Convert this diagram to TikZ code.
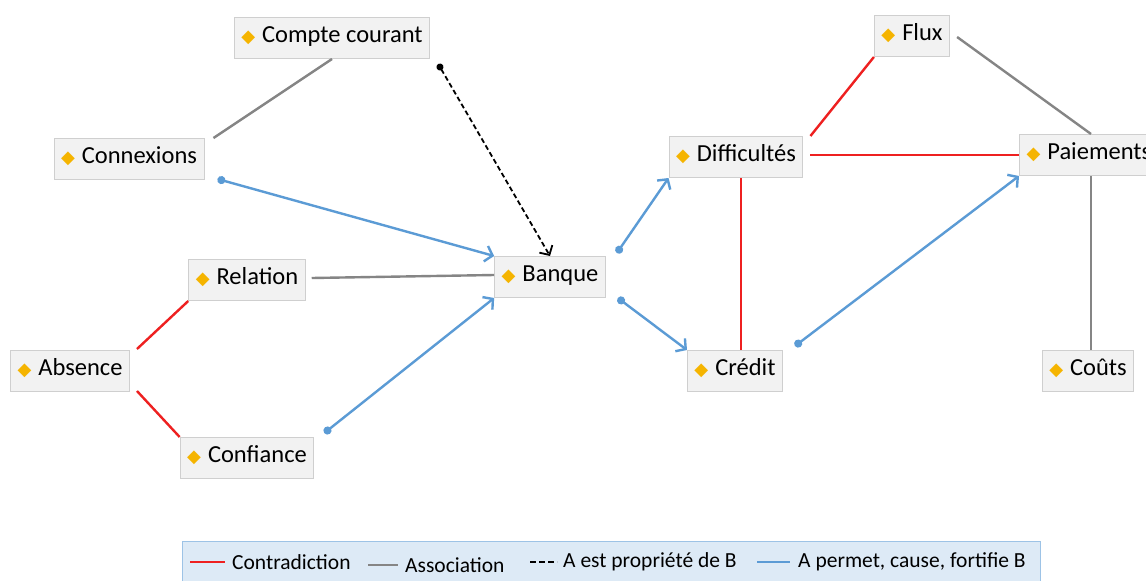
\documentclass[tikz,border=0pt]{standalone}
\usepackage{fontspec}
\setmainfont{Carlito}
\newfontfamily\symfont{DejaVu Sans}
\usetikzlibrary{arrows.meta, calc}
\definecolor{puce}{HTML}{F5B400}
\definecolor{fondnoeud}{HTML}{F2F2F2}
\definecolor{bordnoeud}{HTML}{CFCFCF}
\definecolor{contra}{HTML}{EE2020}
\definecolor{assoc}{HTML}{858585}
\definecolor{cause}{HTML}{5B9BD5}
\definecolor{fondlegende}{HTML}{DDEAF6}
\definecolor{bordlegende}{HTML}{9DC3E6}
\newcommand{\puce}{\raisebox{0.5pt}{\symfont\fontsize{18}{18}\selectfont\color{puce}◆}\hspace{7pt}}
\tikzset{
  concept/.style  = {draw=bordnoeud, fill=fondnoeud, line width=1pt,
                     minimum height=41pt, inner xsep=7pt,
                     text height=15pt, text depth=6pt,
                     font=\fontsize{24.5}{28}\selectfont},
  lgtxt/.style    = {anchor=west, inner sep=0pt, font=\fontsize{21.5}{25}\selectfont},
  lcontra/.style  = {draw=contra, line width=2.4pt},
  lassoc/.style   = {draw=assoc, line width=2.4pt},
  lprop/.style    = {draw=black, line width=1.8pt, dash pattern=on 5pt off 3pt,
                     {Circle[length=7pt]}-{Straight Barb[length=7pt, width=15pt]}},
  lcause/.style   = {draw=cause, line width=2.4pt,
                     {Circle[length=8pt]}-{Straight Barb[length=7pt, width=16pt]}},
}

\begin{document}
\begin{tikzpicture}[x=1pt, y=-1pt]
    \clip (0,0) rectangle (1146,581);
    \fill[white] (0,0) rectangle (1146,581);
    % concepts, partie gauche
    \node[concept] (cc)   at (332,38)  {\puce Compte courant};
    \node[concept] (cx)   at (129,159) {\puce Connexions};
    \node[concept] (rel)  at (247,280) {\puce Relation};
    \node[concept] (abs)  at (70,371)  {\puce Absence};
    \node[concept] (conf) at (247,458) {\puce Confiance};
    \node[concept] (bq)   at (550,277) {\puce Banque};
    % concepts, partie droite
    \node[concept] (dif)  at (736,157) {\puce Difficultés};
    \node[concept] (cr)   at (735,371) {\puce Crédit};
    \node[concept] (flux) at (912,36)  {\puce Flux};
    \node[concept, anchor=west] (pai) at (1019,155) {\puce Paiements};
    \node[concept] (cout) at (1088,371) {\puce Coûts};

    % liens
    \draw[lassoc]  (cc.south) -- ([shift={(9,0)}]cx.north east);
    \draw[lprop]   ([shift={(8,5)}]cc.south east) -- (bq.north);
    \draw[lcause]  ([shift={(13,-1)}]cx.south east) -- (bq.north west);
    \draw[lassoc]  ([shift={(6,-2)}]rel.east) -- ([shift={(0,-2)}]bq.west);
    \draw[lcontra] ([shift={(7,-1)}]abs.north east) -- (rel.south west);
    \draw[lcontra] ([shift={(7,-1)}]abs.south east) -- (conf.north west);
    \draw[lcause]  ([shift={(10,-4)}]conf.north east) -- (bq.south west);
    \draw[lcause]  ([shift={(11,-3)}]bq.north east) -- (dif.south west);
    \draw[lcause]  ([shift={(12,0)}]bq.south east) -- (cr.north west);
    \draw[lcontra] ([shift={(5,0)}]dif.south) -- ([shift={(5,0)}]dif.south |- cr.north);
    \draw[lcontra] ([shift={(7,0)}]dif.north east) -- (flux.south west);
    \draw[lcontra] ([shift={(7,-2)}]dif.east) -- (pai.west);
    \draw[lassoc]  ([shift={(7,1)}]flux.east) -- ([shift={(72,0)}]pai.north west);
    \draw[lcause]  ([shift={(12,-4)}]cr.north east) -- (pai.south west);
    \draw[lassoc]  ([shift={(72,0)}]pai.south west) -- ([shift={(72,0)}]pai.south west |- cout.north);

    % legende
    \draw[draw=bordlegende, fill=fondlegende, line width=1pt] (182,541) rectangle (1040,600);
    \node[lgtxt] (lg1) at (232,562) {Contradiction};
    \node[lgtxt] (lg2) at (405,565) {Association};
    \node[lgtxt] (lg3) at (563,562) {A est propriété de B};
    \node[lgtxt] (lg4) at (798,562) {A permet, cause, fortifie B};
    \draw[lcontra] ([shift={(-42,0)}]lg1.west) -- ([shift={(-7,0)}]lg1.west);
    \draw[lassoc]  ([shift={(-37,0)}]lg2.west) -- ([shift={(-7,0)}]lg2.west);
    \draw[draw=black, line width=2.4pt, dash pattern=on 6pt off 3pt] ([shift={(-33,0)}]lg3.west) -- ([shift={(-6,0)}]lg3.west);
    \draw[lcause, -] ([shift={(-41,0)}]lg4.west) -- ([shift={(-8,0)}]lg4.west);
\end{tikzpicture}
\end{document}
